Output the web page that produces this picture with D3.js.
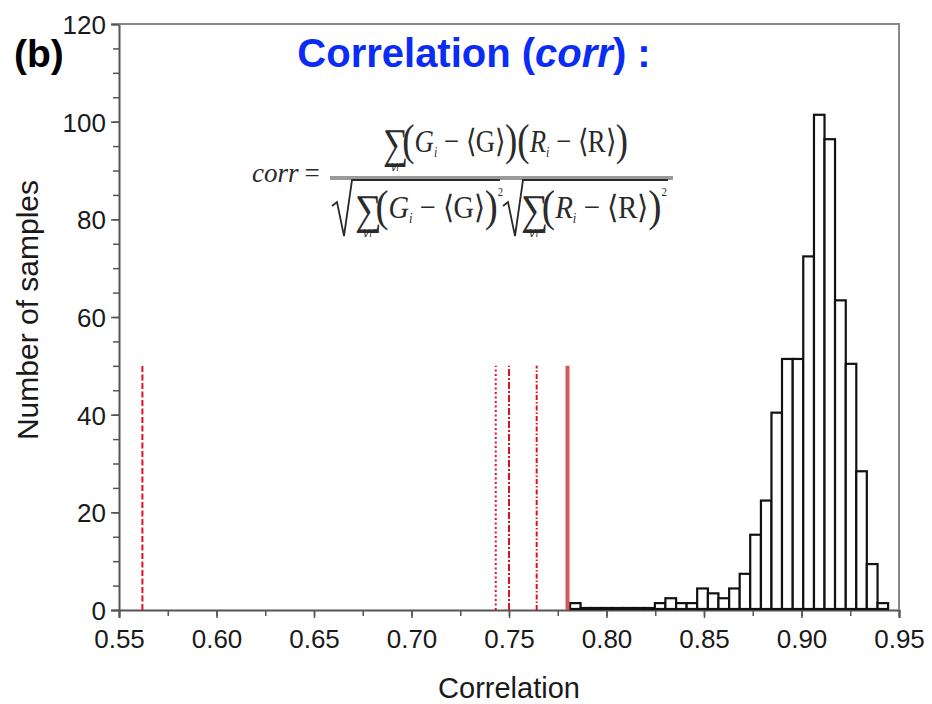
<!DOCTYPE html>
<html>
<head>
<meta charset="utf-8">
<script src="https://cdnjs.cloudflare.com/ajax/libs/d3/7.8.5/d3.min.js"></script>
<style>
  body { margin: 0; background: white; }
  svg { display: block; }
</style>
</head>
<body>
<div id="chart"></div>
<script>
//DATA
// histogram bins (lower edges) and counts
var binLo = [0.7813, 0.7867, 0.7922, 0.7976, 0.8030, 0.8085, 0.8139, 0.8194, 0.8248, 0.8302,
             0.8357, 0.8411, 0.8465, 0.8520, 0.8574, 0.8629, 0.8683, 0.8737, 0.8792, 0.8846,
             0.8900, 0.8955, 0.9009, 0.9064, 0.9118, 0.9172, 0.9227, 0.9281, 0.9335, 0.9390];
var binHi = [0.7867, 0.7922, 0.7976, 0.8030, 0.8085, 0.8139, 0.8194, 0.8248, 0.8302, 0.8357,
             0.8411, 0.8465, 0.8520, 0.8574, 0.8629, 0.8683, 0.8737, 0.8792, 0.8846, 0.8900,
             0.8955, 0.9009, 0.9064, 0.9118, 0.9172, 0.9227, 0.9281, 0.9335, 0.9390, 0.9444];
var counts = [1, 0, 0, 0, 0, 0, 0, 0, 1, 2,
              1, 1, 4, 3, 2, 4, 7, 15, 22, 40,
              51, 51, 72, 101, 96, 63, 50, 28, 9, 1];

// red reference lines
var refX = [0.562, 0.7432, 0.750, 0.7642, 0.780];
var refTop = [50, 50, 50, 50, 50];
var refDash = ["6,2.5", "2,2.5", "7,2,2,2", "5,2,1.5,2", null];

var xTicks = [0.55, 0.60, 0.65, 0.70, 0.75, 0.80, 0.85, 0.90, 0.95];
var yTicks = [0, 20, 40, 60, 80, 100, 120];

//SIZING
var margin = { top: 24, right: 33, bottom: 94, left: 119 };
var fullW = 932, fullH = 704;
var width = fullW - margin.left - margin.right;
var height = fullH - margin.top - margin.bottom;

var svg = d3.select("#chart").append("svg")
    .attr("width", fullW)
    .attr("height", fullH);

var g = svg.append("g")
    .attr("transform", "translate(" + margin.left + "," + margin.top + ")");

var x = d3.scaleLinear().domain([0.55, 0.95]).range([0, width]);
var y = d3.scaleLinear().domain([0, 120]).range([height, 0]);

//AXES
var font = "Arial, 'Liberation Sans', sans-serif";

// minor ticks first
g.append("g")
    .attr("transform", "translate(0," + height + ")")
    .call(d3.axisBottom(x).tickValues(d3.range(0.55, 0.951, 0.025)).tickSize(6).tickFormat(""))
    .call(function (a) { a.select(".domain").remove(); });
g.append("g")
    .call(d3.axisLeft(y).tickValues(d3.range(0, 121, 5)).tickSize(6).tickFormat(""))
    .call(function (a) { a.select(".domain").remove(); });

var xAxis = g.append("g")
    .attr("transform", "translate(0," + height + ")")
    .call(d3.axisBottom(x).tickValues(xTicks).tickSize(8).tickPadding(12).tickFormat(d3.format(".2f")));
var yAxis = g.append("g")
    .call(d3.axisLeft(y).tickValues(yTicks).tickSize(8).tickPadding(5));

g.selectAll(".tick line").attr("stroke", "#555").attr("stroke-width", 1.5);
g.selectAll(".domain").attr("stroke", "#555").attr("stroke-width", 2);
g.selectAll(".tick text")
    .style("font-family", font)
    .style("font-size", "26px")
    .attr("fill", "#1a1a1a");
yAxis.selectAll(".tick text").attr("dy", "0.36em");

// frame top + right
g.append("path")
    .attr("d", "M0,0H" + width + "V" + height)
    .attr("fill", "none")
    .attr("stroke", "#888")
    .attr("stroke-width", 2);

//HISTOGRAM
// empty bins still show their outline along the baseline
g.selectAll(".bar")
    .data(counts)
    .enter().append("rect")
    .attr("class", "bar")
    .attr("x", function (d, i) { return x(binLo[i]); })
    .attr("width", function (d, i) { return x(binHi[i]) - x(binLo[i]); })
    .attr("y", function (d) { return y(d) - 2; })
    .attr("height", function (d) { return Math.max(1, height - y(d) + 1); })
    .attr("fill", "white")
    .attr("stroke", "#111")
    .attr("stroke-width", 2.2);

//REFERENCE LINES
g.selectAll(".ref")
    .data(refX)
    .enter().append("line")
    .attr("class", "ref")
    .attr("x1", function (d) { return x(d); })
    .attr("x2", function (d) { return x(d); })
    .attr("y1", height)
    .attr("y2", function (d, i) { return y(refTop[i]); })
    .attr("stroke", function (d, i) { return refDash[i] ? "#e01020" : "#d25a5a"; })
    .attr("stroke-width", function (d, i) { return refDash[i] ? 2 : 4; })
    .attr("stroke-dasharray", function (d, i) { return refDash[i]; });

//LABELS
svg.append("text")
    .attr("x", margin.left + width / 2)
    .attr("y", 698)
    .attr("text-anchor", "middle")
    .style("font-family", font)
    .style("font-size", "29px")
    .attr("fill", "#1a1a1a")
    .text("Correlation");

svg.append("text")
    .attr("transform", "translate(38,310) rotate(-90)")
    .attr("text-anchor", "middle")
    .style("font-family", font)
    .style("font-size", "30px")
    .attr("fill", "#1a1a1a")
    .text("Number of samples");

svg.append("text")
    .attr("x", 14)
    .attr("y", 67)
    .style("font-family", font)
    .style("font-size", "39px")
    .style("font-weight", "bold")
    .attr("fill", "#000")
    .text("(b)");

var title = svg.append("text")
    .attr("x", 474)
    .attr("y", 67)
    .attr("text-anchor", "middle")
    .style("font-family", font)
    .style("font-size", "40px")
    .style("font-weight", "bold")
    .attr("fill", "#0a2cf5");
title.append("tspan").text("Correlation (");
title.append("tspan").style("font-style", "italic").text("corr");
title.append("tspan").text(") :");

//FORMULA
var serif = "'Liberation Serif', 'Times New Roman', serif";
var fm = svg.append("g").attr("fill", "#2a2a2a").style("font-family", serif);

var lhs = fm.append("text").attr("x", 252).attr("y", 182).style("font-size", "27px");
lhs.append("tspan").style("font-style", "italic").text("corr");
lhs.append("tspan").attr("dx", 6).text("=");

// fraction bar
fm.append("line").attr("x1", 330).attr("x2", 673).attr("y1", 178).attr("y2", 178)
    .attr("stroke", "#9a9a9a").attr("stroke-width", 4);

// one text element per formula line; each piece is placed at a baseline offset
function formulaLine(x0, base, len) {
    var t = fm.append("text").attr("x", x0).attr("y", base)
        .style("font-size", "32px")
        .attr("textLength", len).attr("lengthAdjust", "spacingAndGlyphs");
    var cur = 0;
    t.put = function (txt, off, size, ital, dx) {
        var s = t.append("tspan").attr("dy", off - cur).text(txt);
        if (size) s.style("font-size", size + "px");
        if (ital) s.style("font-style", "italic");
        if (dx) s.attr("dx", dx);
        cur = off;
    };
    return t;
}

function addSigma(t) {
    t.put("\u2211", 6, 42);
    t.put("\u2200i", 19, 11, true, -22);
}

function addTerm(t, letter, sq, dx) {
    t.put("(", 3, 44, false, dx);
    t.put(letter, 0, null, true);
    t.put("i", 5, 14, true);
    t.put(" \u2212 \u27e8" + letter + "\u27e9", 0);
    t.put(")", 3, 44);
    if (sq) t.put("2", -22, 12);
}

// numerator
var num = formulaLine(383, 152, 245);
addSigma(num);
addTerm(num, "G", false, 4);
addTerm(num, "R", false);

// denominator
function radical(x0, x1) {
    fm.append("path")
        .attr("d", "M" + x0 + ",206 L" + (x0 + 5) + ",202 L" + (x0 + 12) + ",236 L" + (x0 + 20) + ",180 L" + x1 + ",180")
        .attr("fill", "none").attr("stroke", "#2a2a2a").attr("stroke-width", 1.8);
}
radical(332, 500);
var den1 = formulaLine(355, 218, 148);
addSigma(den1);
addTerm(den1, "G", true, 4);

radical(503, 668);
var den2 = formulaLine(521, 218, 146);
addSigma(den2);
addTerm(den2, "R", true, 4);
</script>
</body>
</html>
